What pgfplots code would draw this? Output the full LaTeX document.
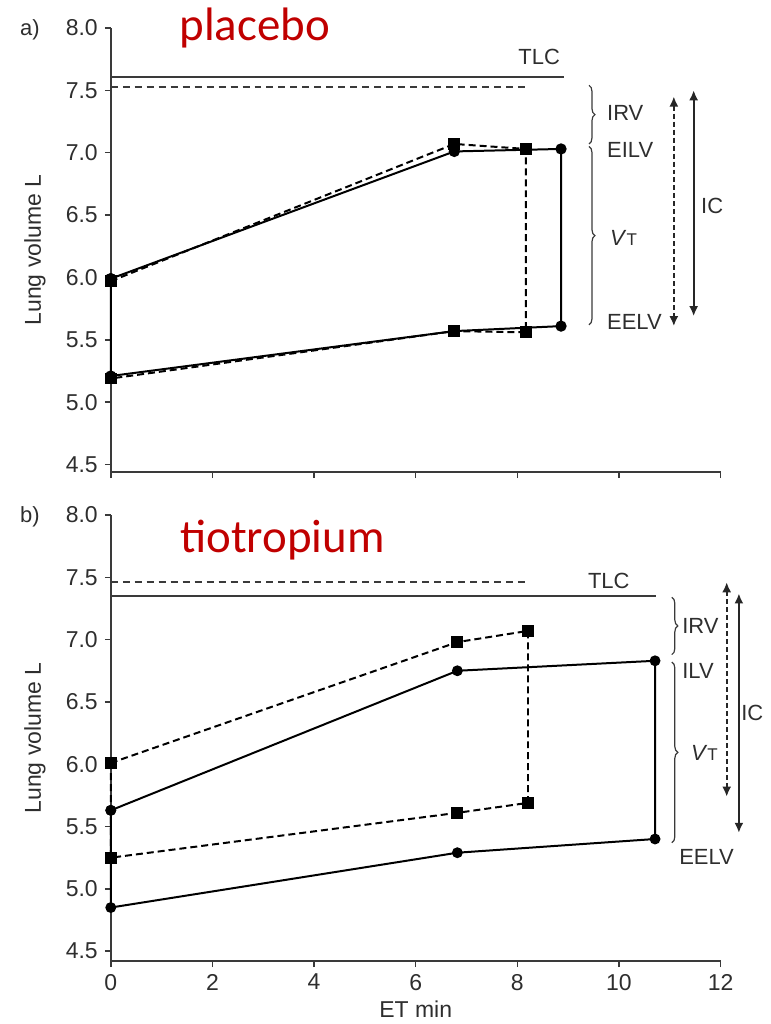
\documentclass[border=0pt]{standalone}
\usepackage{fontspec}
\setmainfont{Liberation Sans}
\newfontfamily\calibri{Carlito}
\usepackage{pgfplots}
\pgfplotsset{compat=1.18}
\usetikzlibrary{decorations.pathreplacing,arrows.meta}
\definecolor{titlered}{HTML}{C00000}
\definecolor{axgray}{HTML}{3A3A3A}
\definecolor{txtgray}{HTML}{2E2E2E}

\pgfplotsset{
  lungaxis/.style={
    scale only axis, width=305.5pt,
    xmin=0, xmax=12, ymax=8,
    axis lines=left,
    axis line style={axgray, line width=0.9pt, -},
    tick align=outside, major tick length=3pt,
    tick style={axgray, line width=0.8pt},
    xtick={0,2,4,6,8,10,12},
    ytick={4.5,5,5.5,6,6.5,7,7.5,8},
    yticklabel style={/pgf/number format/.cd, fixed, fixed zerofill, precision=1, assume math mode=true},
    xticklabel style={/pgf/number format/assume math mode=true},
    tick label style={font=\fontsize{11.5}{13}\selectfont, text=txtgray},
    label style={font=\fontsize{11.5}{13}\selectfont, text=txtgray},
    ylabel={Lung volume L},
    ylabel style={at={(axis description cs:0,0.5)}, anchor=center, yshift=38pt},
    clip=false,
  },
  solidser/.style={black, line width=1pt, mark=*, mark size=2.3pt},
  dashser/.style={black, line width=1pt, dash pattern=on 3.5pt off 2pt,
    mark=square*, mark size=2.5pt, mark options={solid}},
  tlcsolid/.style={axgray, line width=1pt, no markers},
  tlcdash/.style={axgray, line width=1pt, dash pattern=on 3.5pt off 2.5pt, no markers},
}
\tikzset{
  br/.style={decorate, decoration={brace, amplitude=3pt}, axgray, line width=0.6pt},
  lab/.style={anchor=west, inner sep=0pt, text=txtgray},
  icarrow/.style={{Latex[length=5pt,width=4.5pt]}-{Latex[length=5pt,width=4.5pt]}, line width=0.9pt, black!85},
}

\begin{document}
\begin{tikzpicture}[font=\fontsize{11}{13}\selectfont]
\path (-55.5pt,-275.5pt) rectangle (330.5pt,236.5pt);

% a) placebo
\begin{axis}[lungaxis, height=222.5pt, ymin=4.44, xticklabels={}]
\addplot[tlcsolid] coordinates {(0,7.61) (8.92,7.61)};
\addplot[tlcdash] coordinates {(0,7.53) (8.20,7.53)};
\addplot[solidser] coordinates {
  (0,5.99) (6.76,7.01) (8.86,7.03) (8.86,5.61) (6.76,5.57) (0,5.21) (0,5.99)};
\addplot[dashser] coordinates {
  (0,5.97) (6.76,7.07) (8.17,7.03) (8.17,5.56) (6.76,5.57) (0,5.19)};

\node[anchor=base, inner sep=0pt] at (axis cs:2.83,7.90)
  {\calibri\fontsize{23.5}{26}\selectfont\color{titlered}placebo};
\node[text=txtgray] at (rel axis cs:0,1) [xshift=-40.5pt, yshift=-1pt] {a)};
\node[text=txtgray, inner sep=0pt] at (axis cs:8.43,7.77) {TLC};
\draw[br] (axis cs:9.41,7.54) -- (axis cs:9.41,7.07);
\draw[br] (axis cs:9.41,7.05) -- (axis cs:9.41,5.62);
\node[lab] at (axis cs:9.76,7.32) {IRV};
\node[lab] at (axis cs:9.76,7.02) {EILV};
\node[lab] at (axis cs:9.82,6.32) {\textit{V}{\fontsize{8.5}{9}\selectfont T}};
\node[lab] at (axis cs:9.76,5.64) {EELV};
\draw[icarrow, dash pattern=on 2.5pt off 1.5pt] (axis cs:11.08,7.45) -- (axis cs:11.08,5.61);
\draw[icarrow] (axis cs:11.47,7.50) -- (axis cs:11.47,5.69);
\node[lab] at (axis cs:11.61,6.57) {IC};
\end{axis}

% b) tiotropium
\begin{axis}[lungaxis, at={(0,-245pt)}, anchor=south west,
  height=223.5pt, ymin=4.42,
  xlabel={ET min},
  xlabel style={at={(axis description cs:0.5,0)}, anchor=center, yshift=-24pt}]
\addplot[tlcdash] coordinates {(0,7.46) (8.19,7.46)};
\addplot[tlcsolid] coordinates {(0,7.35) (10.73,7.35)};
\addplot[solidser, mark size=2.2pt] coordinates {
  (0,5.63) (6.82,6.75) (10.71,6.83) (10.71,5.40) (6.82,5.29) (0,4.85) (0,5.63)};
\addplot[dashser] coordinates {
  (0,6.01) (6.82,6.98) (8.21,7.07) (8.21,5.69) (6.82,5.61) (0,5.25) (0,6.01)};

\node[anchor=base, inner sep=0pt] at (axis cs:3.38,7.70)
  {\calibri\fontsize{23.5}{26}\selectfont\color{titlered}tiotropium};
\node[text=txtgray] at (rel axis cs:0,1) [xshift=-40.5pt, yshift=-1pt] {b)};
\node[text=txtgray, inner sep=0pt] at (axis cs:9.80,7.47) {TLC};
\draw[br] (axis cs:11.04,7.34) -- (axis cs:11.04,6.88);
\draw[br] (axis cs:11.04,6.82) -- (axis cs:11.04,5.37);
\node[lab] at (axis cs:11.24,7.11) {IRV};
\node[lab] at (axis cs:11.24,6.75) {ILV};
\node[lab] at (axis cs:11.41,6.09) {\textit{V}{\fontsize{8.5}{9}\selectfont T}};
\node[lab] at (axis cs:11.18,5.26) {EELV};
\draw[icarrow, dash pattern=on 2.5pt off 1.5pt] (axis cs:12.12,7.46) -- (axis cs:12.12,5.74);
\draw[icarrow] (axis cs:12.36,7.37) -- (axis cs:12.36,5.45);
\node[lab] at (axis cs:12.40,6.41) {IC};
\end{axis}
\end{tikzpicture}
\end{document}
